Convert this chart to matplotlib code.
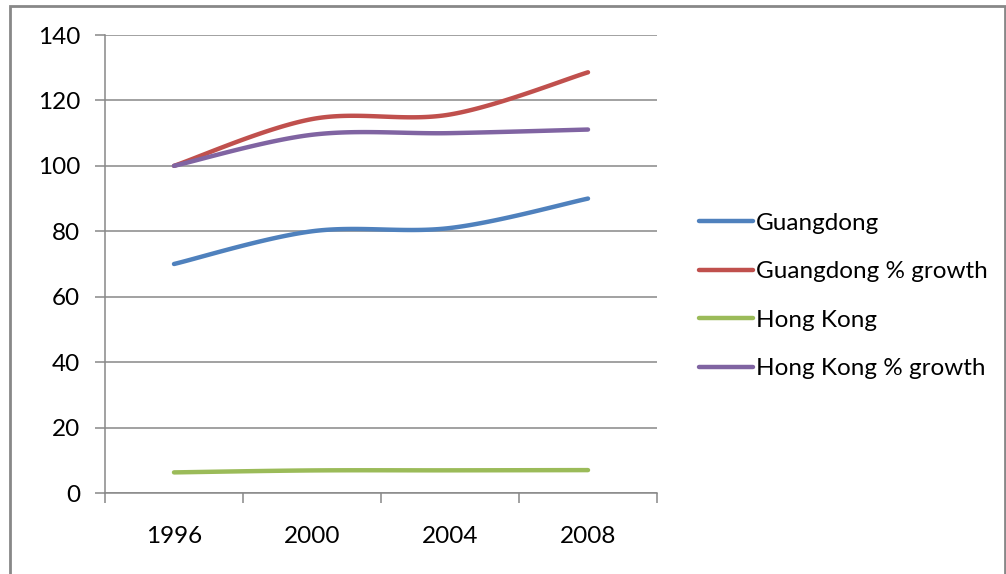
import numpy as np
import matplotlib.pyplot as plt
from matplotlib.lines import Line2D
from matplotlib.patches import Rectangle

# years on the category axis
years = ["1996", "2000", "2004", "2008"]

# series values
guangdong = [70, 80, 81, 90]
guangdong_growth = [100, 114.3, 115.7, 128.6]
hong_kong = [6.3, 6.9, 6.93, 7.0]
hong_kong_growth = [100, 109.5, 110.0, 111.1]

names = ["Guangdong", "Guangdong % growth", "Hong Kong", "Hong Kong % growth"]
colors = ["#4F81BD", "#C0504D", "#9BBB59", "#8064A2"]

plt.rcParams['font.family'] = ['Lato', 'DejaVu Sans']


def smooth(y, n=40):
    # Catmull-Rom style smoothing between the points, like Excel's smoothed lines
    y = np.asarray(y, dtype=float)
    x = np.arange(len(y), dtype=float)
    px = np.concatenate([[x[0]], x, [x[-1]]])
    py = np.concatenate([[y[0]], y, [y[-1]]])
    xs, ys = [], []
    for i in range(1, len(px) - 2):
        p0, p1, p2, p3 = py[i - 1], py[i], py[i + 1], py[i + 2]
        q0, q1, q2, q3 = px[i - 1], px[i], px[i + 1], px[i + 2]
        t = np.linspace(0, 1, n)
        # bezier control points
        c1y = p1 + (p2 - p0) / 6
        c2y = p2 - (p3 - p1) / 6
        c1x = q1 + (q2 - q0) / 6
        c2x = q2 - (q3 - q1) / 6
        bx = (1 - t) ** 3 * q1 + 3 * (1 - t) ** 2 * t * c1x + 3 * (1 - t) * t ** 2 * c2x + t ** 3 * q2
        by = (1 - t) ** 3 * p1 + 3 * (1 - t) ** 2 * t * c1y + 3 * (1 - t) * t ** 2 * c2y + t ** 3 * p2
        xs.extend(bx)
        ys.extend(by)
    return np.array(xs), np.array(ys)


fig = plt.figure(figsize=(10.06, 5.74), dpi=100)
ax = fig.add_axes([105 / 1006, 1 - 493 / 574, (657 - 105) / 1006, (493 - 35) / 574])

for data, c in zip([guangdong, guangdong_growth, hong_kong, hong_kong_growth], colors):
    sx, sy = smooth(data)
    ax.plot(sx, sy, color=c, linewidth=3.2, solid_capstyle='round')

ax.set_xlim(-0.5, len(years) - 0.5)
ax.set_ylim(0, 140)
ax.set_yticks(range(0, 141, 20))
ax.yaxis.grid(True, color="#888888", linewidth=1.1)
ax.set_axisbelow(True)

# category labels centred, tick marks between categories
ax.set_xticks(range(len(years)))
ax.set_xticklabels(years)
ax.set_xticks(np.arange(-0.5, len(years), 1), minor=True)
ax.tick_params(axis='x', which='major', length=0, pad=24, labelsize=17.5)
ax.tick_params(axis='x', which='minor', length=7, color="#888888", width=1.1)
ax.tick_params(axis='y', length=7, color="#888888", width=1.1, labelsize=17.5, pad=11)

for side in ['top', 'right']:
    ax.spines[side].set_visible(False)
for side in ['left', 'bottom']:
    ax.spines[side].set_color("#888888")
    ax.spines[side].set_linewidth(1.1)

handles = [Line2D([], [], color=c, linewidth=3.2, solid_capstyle='round') for c in colors]
fig.legend(handles, names, loc='upper left', bbox_to_anchor=(689 / 1006, 1 - 203 / 574),
           frameon=False, fontsize=17.5, handlelength=2.25, handletextpad=0.1,
           labelspacing=1.13, borderaxespad=0)

# outer chart border
fig.patches.append(Rectangle((10 / 1006, -0.05), (1005 - 10) / 1006, 1.05 - 5.5 / 574,
                             transform=fig.transFigure, fill=False,
                             edgecolor="#888888", linewidth=2))

fig.savefig("out.png", dpi=100)
